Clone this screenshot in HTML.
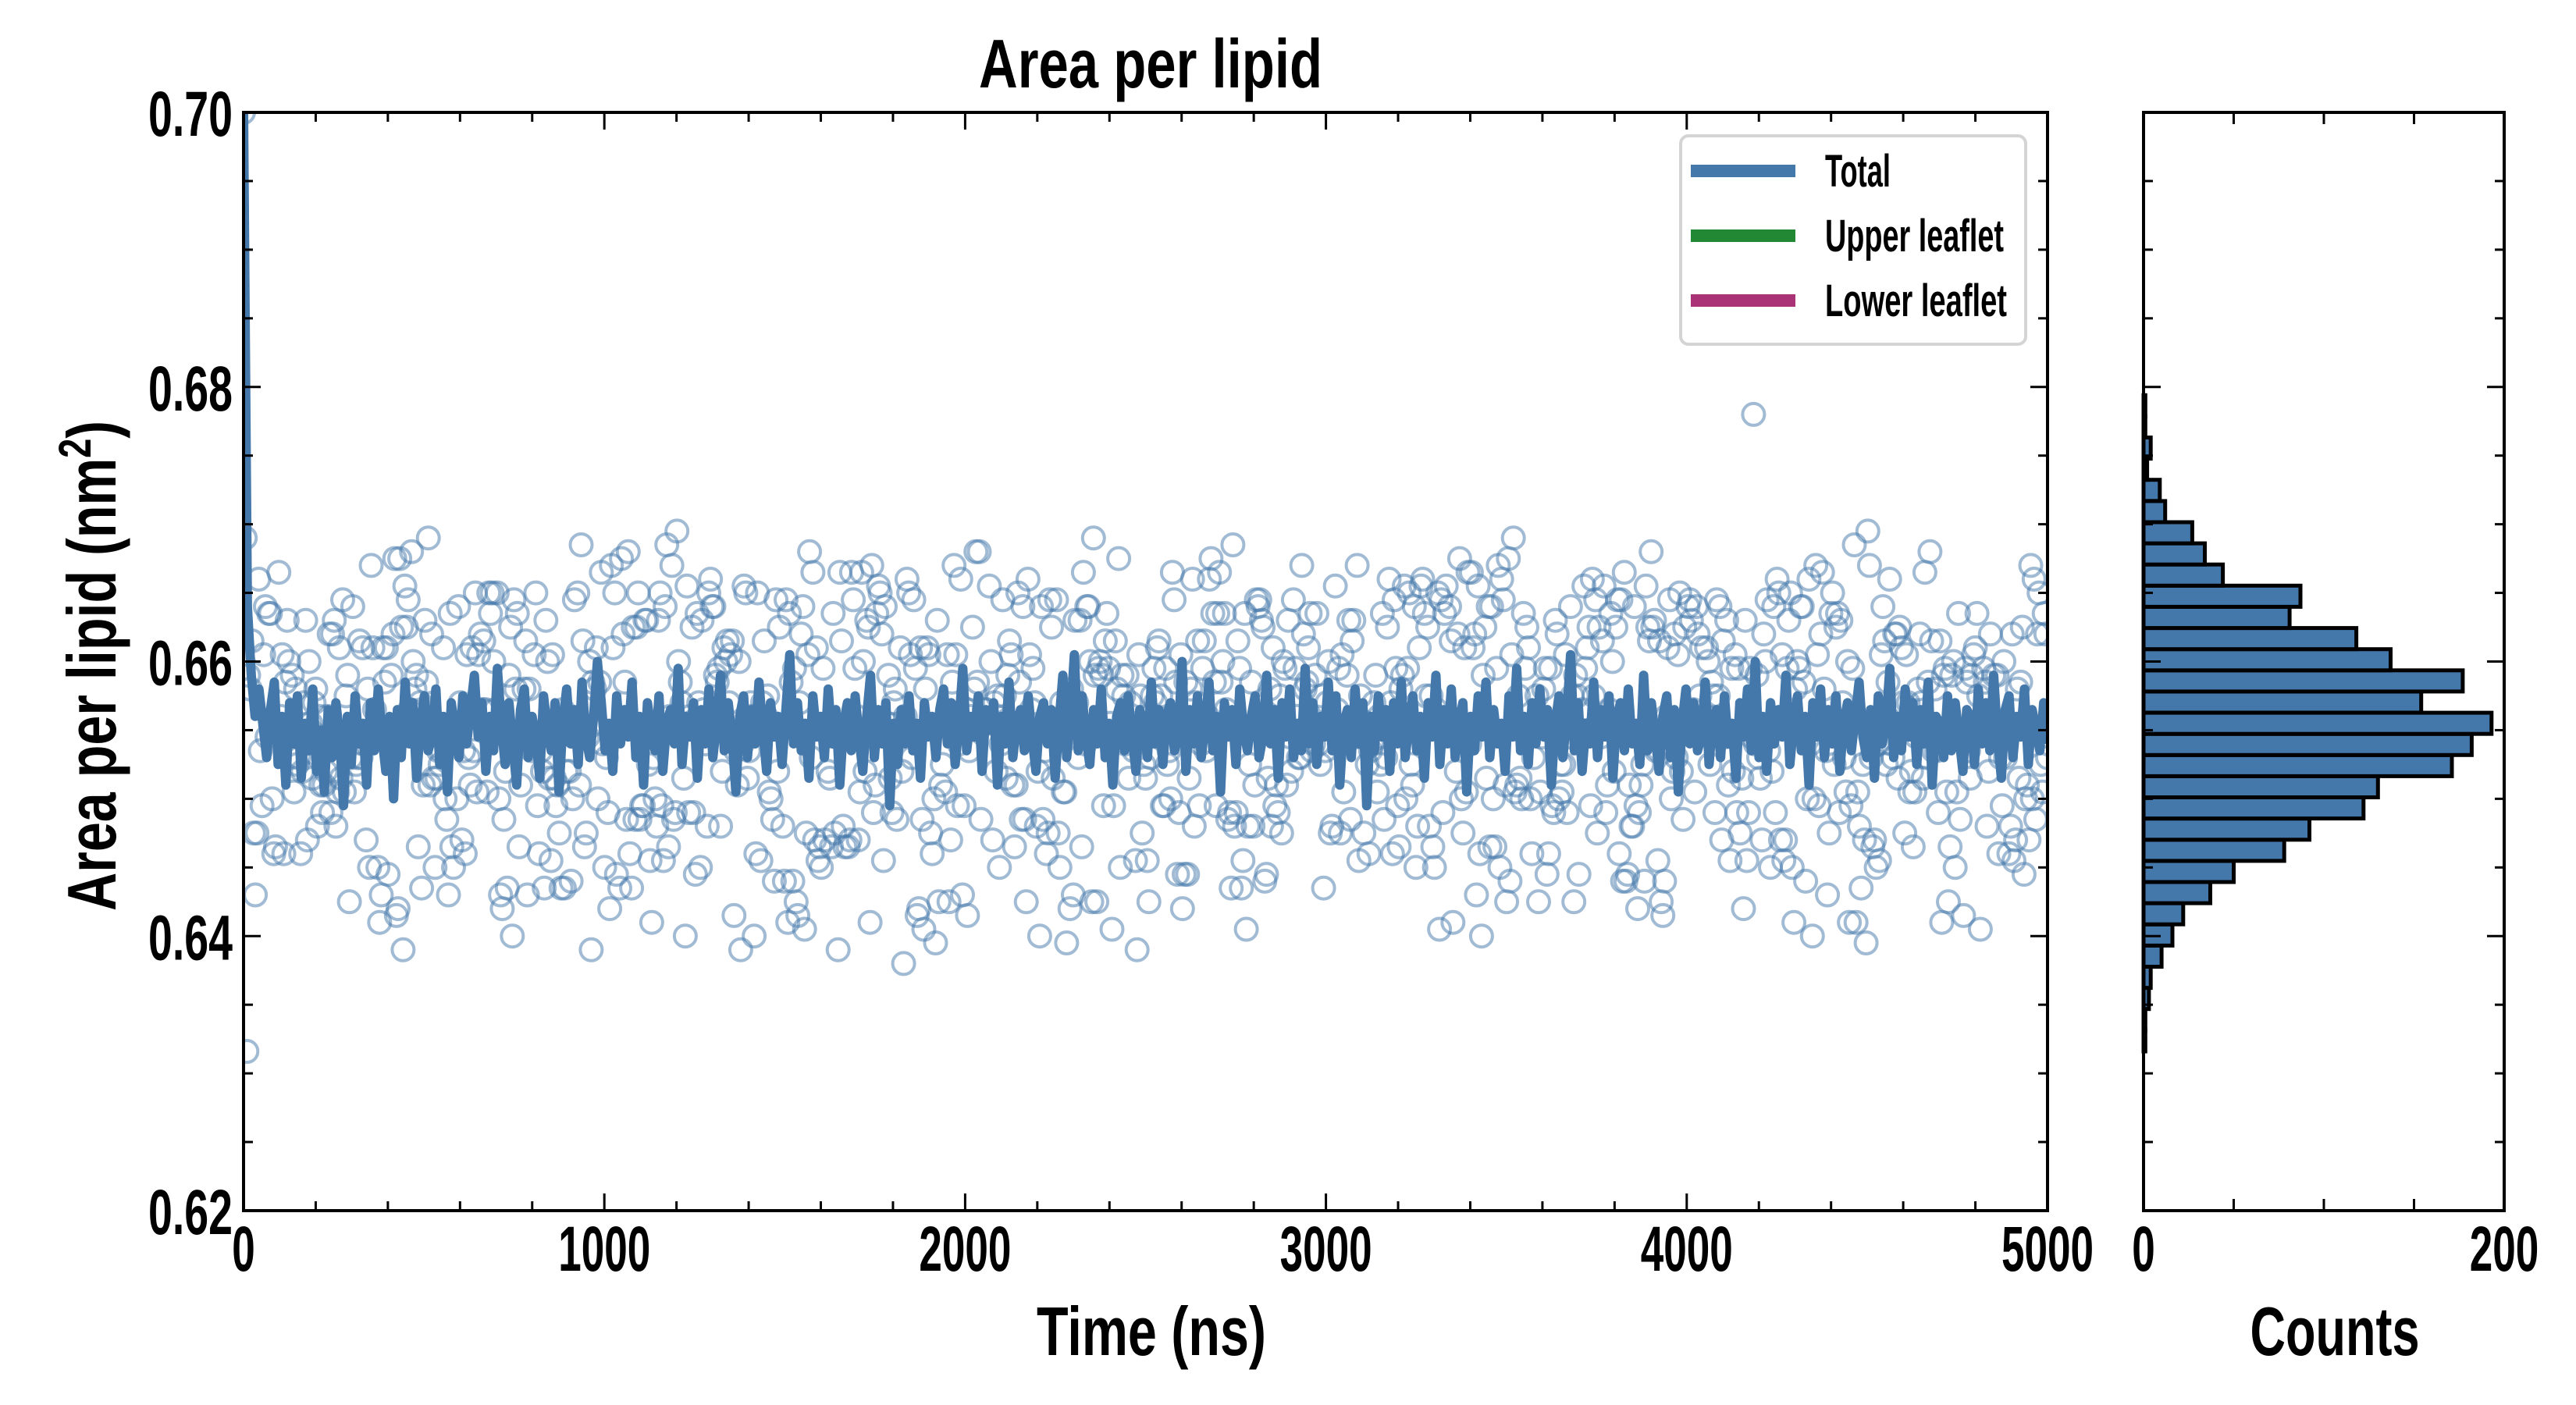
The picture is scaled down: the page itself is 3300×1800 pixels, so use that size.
<!DOCTYPE html>
<html><head><meta charset="utf-8"><style>
html,body{margin:0;padding:0;background:#fff;}
svg{display:block;}
text{font-family:"Liberation Sans Narrow","Liberation Sans",sans-serif;font-weight:bold;fill:#000;}
</style></head><body>
<svg id="chart" width="3300" height="1800" viewBox="0 0 3300 1800" xmlns="http://www.w3.org/2000/svg">
<rect x="0" y="0" width="3300" height="1800" fill="#fff"/>
<defs><clipPath id="mainclip"><rect x="312" y="144" width="2311" height="1407"/></clipPath></defs>
<g id="scatter-g" clip-path="url(#mainclip)"></g>
<g id="line-g" clip-path="url(#mainclip)"></g>
<g id="hist-g"></g>
<g id="axes-g"></g>
<text x="1474" y="112" font-size="88" text-anchor="middle" textLength="440" lengthAdjust="spacingAndGlyphs">Area per lipid</text>
<text x="1475" y="1736" font-size="88" text-anchor="middle" textLength="294" lengthAdjust="spacingAndGlyphs">Time (ns)</text>
<text x="2991" y="1736" font-size="88" text-anchor="middle" textLength="217" lengthAdjust="spacingAndGlyphs">Counts</text>
<text transform="translate(148,853) rotate(-90)" font-size="88" text-anchor="middle" textLength="628" lengthAdjust="spacingAndGlyphs">Area per lipid (nm<tspan font-size="58" dy="-32">2</tspan><tspan dy="32">)</tspan></text>
<g>
<rect x="2153" y="174" width="442" height="267" rx="10" fill="#fff" fill-opacity="0.85" stroke="#d4d4d4" stroke-width="4"/>
<line x1="2166" y1="219" x2="2300" y2="219" stroke="#4477aa" stroke-width="16"/>
<text x="2338" y="239" font-size="58" textLength="84" lengthAdjust="spacingAndGlyphs">Total</text>
<line x1="2166" y1="302" x2="2300" y2="302" stroke="#228833" stroke-width="16"/>
<text x="2338" y="322" font-size="58" textLength="229" lengthAdjust="spacingAndGlyphs">Upper leaflet</text>
<line x1="2166" y1="385" x2="2300" y2="385" stroke="#aa3377" stroke-width="16"/>
<text x="2338" y="405" font-size="58" textLength="233" lengthAdjust="spacingAndGlyphs">Lower leaflet</text>
</g>
</svg>
<script>
// ---- data (values in units of 1e-4 nm^2 relative to 0.655) ----
const scatterOffsets = [450,140,-234,40,-30,80,95,20,-60,10,35,-80,65,-25,110,5,-45,70,-90,25,55,-15,-70,90,0,
-35,120,45,-100,15,75,-55,30,-20,85,-65,50,10,-110,60,-40,95,-5,35,-75,20,105,-30,65,-85,
40,-10,80,-115,25,-50,135,-25,55,0,-90,70,15,-60,100,-35,45,-140,30,85,-20,60,-70,10,115,
-45,20,-95,75,-5,40,-125,90,-30,55,15,-80,65,-15,125,-55,35,0,-100,80,-40,25,-65,50,230,
-20,95,-85,10,60,-50,30,-105,70,-10,45,-160,85,-35,20,105,-75,55,-25,40,-130,65,5,-60,90,
-15,110,-45,30,-90,75,-5,50,-115,35,145,-70,20,-40,100,-20,60,-150,15,80,-55,45,-10,-95,70,
-30,25,120,-65,55,-5,-105,85,10,-45,40,-80,95,-25,65,-135,30,-15,115,-60,50,0,-75,90,-35,
20,75,-120,45,-50,100,-10,35,-85,60,-30,130,-70,15,55,-100,80,-20,40,-145,70,5,-55,95,-40,
25,110,-90,50,-15,85,-60,30,-125,65,-5,45,-80,100,-35,20,-110,75,10,-50,60,-25,140,-95,35,
-70,55,0,-40,90,-130,25,80,-20,45,-85,65,-10,105,-55,30,-170,70,15,-45,95,-30,50,-100,20,
85,-65,40,-5,125,-75,60,-35,10,-115,90,-25,35,-60,75,-140,45,0,-90,110,-45,20,65,-20,-80,
55,-10,100,-50,30,-105,85,-35,15,70,-70,45,-125,95,-15,40,-55,120,-85,25,60,-30,-150,80,5,
-40,50,-95,90,-20,35,-65,115,-45,10,75,-110,55,-5,-80,100,-30,45,-135,65,20,-55,85,-15,30,
-100,70,-40,130,-70,15,50,-25,95,-120,40,-10,-60,80,-45,25,105,-90,60,0,-35,90,-75,35,-145,
75,10,-50,110,-20,55,-85,30,-5,100,-115,65,-40,20,85,-65,45,-160,95,-25,15,-55,120,-30,40,
-80,70,5,-105,90,-45,50,-10,135,-70,25,-95,80,-35,60,-125,100,-15,35,-60,75,0,-90,115,-40,
-20,55,-110,85,-50,30,145,-75,45,-5,-85,95,-30,65,-130,20,110,-55,40,-15,-100,70,10,-65,90,
-45,25,-140,80,-20,50,-75,125,-35,15,-90,60,-10,100,-115,45,-60,35,85,-25,-80,105,-50,5,70,
-105,30,-35,95,-70,55,-155,75,-15,40,-60,115,-40,20,-95,90,-5,60,-125,35,80,-30,-75,45,-20,
100,-85,65,10,-50,130,-45,25,-110,85,-10,55,-65,70,-35,30,-135,95,0,-55,110,-25,40,-90,75,
-40,60,-120,20,90,-15,-70,50,-100,80,5,-45,140,-80,35,-30,65,-60,100,-150,45,-5,-85,120,-20,
25,-95,75,-55,55,10,-115,85,-35,40,-70,105,-25,15,-125,90,-50,60,0,-80,115,-40,30,-105,70,
-15,45,-65,95,-45,20,-140,80,-10,50,-90,125,-30,35,-60,65,-110,100,-20,5,-75,85,-55,40,-130,
75,-5,-45,110,-85,55,15,-100,90,-35,30,-70,60,-150,45,-15,95,-60,20,-120,80,-40,135,-25,50,
-90,70,0,-55,105,-75,35,-115,85,-20,60,-45,120,-95,25,-10,-65,90,-35,45,-140,100,-5,-80,75,
-50,15,110,-30,55,-105,80,-60,40,-20,95,-125,65,-40,10,-85,115,-15,50,-70,35,-160,90,-45,25,
130,-65,60,-10,-95,85,-35,45,-120,70,5,-55,100,-75,30,-25,120,-100,55,-50,20,-135,95,-15,40,
-80,75,-40,65,-110,105,-20,35,-60,90,-145,50,0,-70,115,-30,25,-90,80,-55,60,-125,45,-10,95,
-45,20,-100,85,-65,40,140,-85,55,-5,-115,70,-35,30,-75,110,-25,50,-155,90,-50,15,-95,65,-20,
100,-60,45,-130,75,10,-40,125,-80,35,-15,-105,85,-50,60,-70,95,-30,20,-140,80,-5,-90,115,-45,
30,-65,70,-120,55,-25,105,-75,40,0,-100,90,-35,65,-150,45,-55,120,-15,25,-85,75,-45,50,-110,
100,-20,35,-70,85,-135,60,-10,-60,130,-40,15,-95,80,-55,45,-125,70,5,-80,110,-30,55,-100,90,
-65,25,-15,95,-145,40,-45,75,-85,65,-20,120,-110,30,-50,85,0,-75,105,-35,50,-130,60,-25,20,
-90,100,-55,45,-5,-115,80,-40,135,-70,35,-160,95,-20,60,-60,75,-100,25,-30,115,-85,50,10,-50,
90,-125,40,-15,70,-95,65,-45,110,-75,30,-140,85,-5,55,-65,100,-35,20,-105,80,-55,45,125,-20,
-85,60,-40,95,-120,35,5,-70,115,-50,25,-100,75,-30,65,-150,90,-10,40,-80,105,-60,15,-130,85,
-25,50,-95,70,-45,130,-75,30,-15,-110,100,-35,55,-65,80,-140,45,0,-90,120,-40,20,-55,95,-115,
60,-20,75,-85,35,-125,110,-50,45,-5,-100,90,-30,65,-70,85,-145,25,-40,115,-60,50,-95,70,-15,
40,-120,100,-45,30,10,-80,95,-65,55,-135,75,-25,20,-105,125,-35,60,-75,85,-155,45,-10,-50,105,
-90,35,-30,80,-115,65,-55,15,120,-70,50,-40,-100,90,-20,30,-130,75,-60,55,-5,-85,110,-45,40,
-125,95,-25,70,-65,20,-145,85,-35,60,-80,105,-50,25,-110,80,-15,45,-95,115,-40,35,-70,65,-160,
100,-55,10,-85,90,-30,50,-120,75,-20,40,-60,130,-75,30,-140,95,-45,55,-5,-100,85,-35,60,-105,
70,-65,25,115,-90,45,-15,-125,80,-50,35,-75,100,-25,55,-135,90,-40,20,-95,65,-60,110,-10,45];
const lineOffsets = [450,90,40,10,30,5,-20,15,35,-25,10,-40,20,-10,25,-35,5,-15,30,-30,0,-45,15,-20,20,-5,-55,10,-25,25,
-10,5,-40,20,-15,30,-5,-30,10,-50,15,-20,35,-10,20,-35,5,25,-15,-5,30,-25,10,-45,20,0,-20,25,-10,15,
40,-5,20,-30,10,-15,45,5,-25,20,-10,-40,15,30,-20,10,-5,-35,25,0,-15,20,-45,5,30,-10,15,-25,35,-5,
-20,10,50,20,-15,5,-30,25,-10,15,-5,35,-20,10,-40,20,0,-15,25,-30,5,15,-10,45,-25,10,-5,20,-35,15,
-10,30,-20,5,40,-15,20,-5,-45,10,25,-20,15,-10,35,0,-30,20,-5,10,-25,15,55,-10,20,-15,5,-35,25,-5,
10,-20,30,-10,15,-40,5,20,-15,25,-5,-30,10,40,-20,15,-10,20,-55,5,-25,15,-10,25,-15,5,-35,20,-5,10,
-20,15,30,-10,20,-25,5,45,-15,10,-5,25,-30,15,0,20,-40,10,-10,35,-20,5,15,-15,25,-5,-30,10,20,-10,
15,-35,5,40,-20,10,55,-15,25,-5,-25,15,-10,30,-20,5,-40,10,20,-15,25,-5,-30,15,5,-20,35,-10,15,-25,
10,20,-15,-5,50,-30,15,-10,25,-20,5,35,-15,10,-45,20,-5,15,-25,30,0,-15,10,25,-20,-5,40,-10,15,-35,
20,-5,30,-20,5,-15,45,-10,20,-25,10,-5,35,-15,25,-40,5,15,-20,30,-10,20,-55,10,-15,25,-5,15,-30,20,
-10,35,-20,5,25,-15,10,-35,20,-5,40,-25,15,-10,30,-20,5,20,-45,10,-15,25,-5,35,-20,15,-10,5,-30,25,
-5,45,-15,10,-25,20,-10,30,-5,15,-40,5,25,-20,10,55,-15,20,-30,5,-10,35,-20,15,-5,25,-35,10,20,-15,
30,-10,5,-25,40,-15,20,-5,-30,10,25,-20,15,-45,5,30,-10,20,-15,-5,35,-25,10,15,-20,25,-10,5,-35,20,
-5,30,-15,50,-20,10,-30,20,-10,15,-5,40,-25,5,25,-15,10,-40,20,-5,30,-20,15,-10,25,-30,5,20,-15,10,
35,-5,-20,15,-35,25,-10,5,45,-20,10,-15,30,-5,20,-25,15,-10,35,-40,10,5,-20,25,-15,20,-5,-30,15,10,
-25,30,-10,20,-15,40,-5,-35,15,25,-20,10,-5,30,-25,15,0,-15,20,-10];
const histCounts = [1,1,3,4,10,16,22,37,50,78,92,122,130,171,182,193,154,177,137,118,81,87,44,34,27,12,9,2,4,1,1];
const histStart = 0.6316;
const histBinWidth = 0.001542;
const xTickValues = [0,1000,2000,3000,4000,5000];
const xTickLabels = ["0","1000","2000","3000","4000","5000"];
const yTickValues = [0.62,0.64,0.66,0.68,0.70];
const yTickLabels = ["0.62","0.64","0.66","0.68","0.70"];
const countTickValues = [0,200];
const countTickLabels = ["0","200"];
const timeSpan = 5000;
const baseValue = 0.655;

// ---- geometry ----
const L=312,R=2623,T=144,B=1551,HL=2746,HR=3208;
const NS="http://www.w3.org/2000/svg";
function xs(t){return L+(t-0)/(5000-0)*(R-L);}
function ys(v){return B-(v-0.62)/(0.70-0.62)*(B-T);}
function xc(c){return HL+c/200*(HR-HL);}
function mk(tag,attrs,parent){const e=document.createElementNS(NS,tag);for(const k in attrs)e.setAttribute(k,attrs[k]);parent.appendChild(e);return e;}

const sg=document.getElementById('scatter-g');
const nS=scatterOffsets.length, sStep=timeSpan/(nS-1);
scatterOffsets.forEach((o,i)=>{
  const slot = i<3 ? i : (3 + ((i-3)*389) % (nS-3));
  const c=mk('circle',{cx:xs(slot*sStep).toFixed(1),cy:ys(baseValue+o/10000).toFixed(1),r:14,fill:'none',stroke:'#4477aa','stroke-opacity':0.5,'stroke-width':4},sg);
  
  
});
const lg=document.getElementById('line-g');
const lStep=timeSpan/(lineOffsets.length-1);
const pts=lineOffsets.map((o,i)=>xs(i*lStep).toFixed(1)+','+ys(baseValue+o/10000).toFixed(1)).join(' ');
const pl=mk('polyline',{points:pts,fill:'none',stroke:'#4477aa','stroke-width':12,'stroke-linejoin':'round'},lg);



const hg=document.getElementById('hist-g');
histCounts.forEach((c,i)=>{
  const v0=histStart+i*histBinWidth, v1=v0+histBinWidth;
  const r=mk('rect',{x:xc(0),y:ys(v1).toFixed(1),width:(xc(c)-xc(0)).toFixed(1),height:(ys(v0)-ys(v1)).toFixed(1),fill:'#4477aa',stroke:'#000','stroke-width':5},hg);
  
  
});

const ag=document.getElementById('axes-g');
function tick(x1,y1,x2,y2){mk('line',{x1:x1,y1:y1,x2:x2,y2:y2,stroke:'#000','stroke-width':3},ag);}
for(let t=0;t<=5000;t+=200){const x=xs(t),maj=t%1000===0,len=maj?22:12;tick(x,B,x,B-len);tick(x,T,x,T+len);}
for(let k=0;k<=16;k++){const v=0.62+k*0.005,y=ys(v),maj=k%4===0,len=maj?22:12;tick(L,y,L+len,y);tick(R,y,R-len,y);tick(HL,y,HL+len,y);tick(HR,y,HR-len,y);}
for(let c=0;c<=200;c+=50){const x=xc(c),len=(c%200===0)?22:15;tick(x,B,x,B-len);tick(x,T,x,T+len);}
const f1=mk('rect',{x:L,y:T,width:R-L,height:B-T,fill:'none',stroke:'#000','stroke-width':4},ag);


const f2=mk('rect',{x:HL,y:T,width:HR-HL,height:B-T,fill:'none',stroke:'#000','stroke-width':4},ag);


function lab(x,y,s,anchor,w,name){const t=mk('text',{x:x,y:y,'font-size':82,'text-anchor':anchor,textLength:w,lengthAdjust:'spacingAndGlyphs'},ag);t.textContent=s;}
xTickValues.forEach((v,i)=>{const s=xTickLabels[i];lab(xs(v),1628,s,'middle',s.length*29.5,'x-tick-label');});
yTickValues.forEach((v,i)=>{const s=yTickLabels[i];lab(298,ys(v)+30,s,'end',108,'y-tick-label');});
countTickValues.forEach((v,i)=>{const s=countTickLabels[i];lab(xc(v),1628,s,'middle',s.length*29.5,'count-tick-label');});
</script>
</body></html>
